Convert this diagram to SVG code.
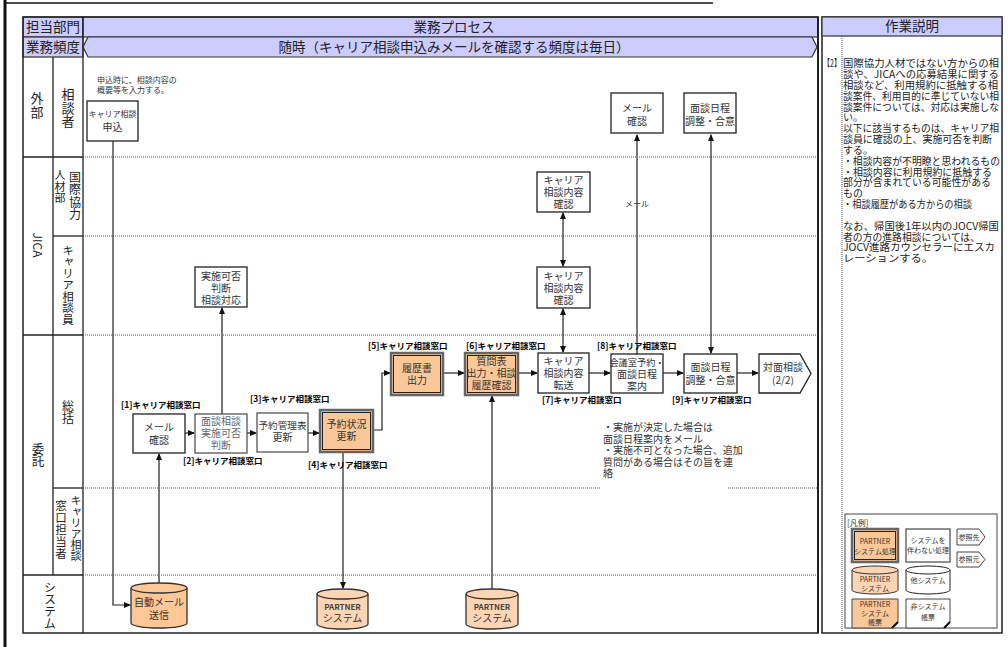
<svg xmlns="http://www.w3.org/2000/svg" width="1008" height="647" viewBox="0 0 1008 647">
<defs>
<marker id="ah" markerUnits="userSpaceOnUse" markerWidth="7" markerHeight="6" refX="6" refY="3" orient="auto-start-reverse">
<path d="M0,0 L7,3 L0,6 Z" fill="#111"/>
</marker>
</defs>
<style>
text{font-family:"Noto Sans CJK JP","Noto Sans",sans-serif;fill:#222}
.hd{font-size:13.5px;text-anchor:middle}
.v{writing-mode:vertical-rl;text-anchor:middle;fill:#222}
.t{font-size:10px;text-anchor:middle;fill:#333}
.ts{font-size:8px;text-anchor:middle;fill:#333}
.lb{font-size:8.5px;font-weight:bold;fill:#000}
.nt{font-size:10px;fill:#333}
.ex{font-size:10px;fill:#222}
.sm{font-size:8px;fill:#333}
.lg{font-size:7px;text-anchor:middle;fill:#333}
.box{fill:#fff;stroke:#222;stroke-width:1.3}
.obox{fill:#fac898;stroke:#666;stroke-width:2.5}
.ibox{fill:none;stroke:#222;stroke-width:1}
.hdr{fill:#ccccff;stroke:#333;stroke-width:1.2}
.sl{stroke:#222;stroke-width:1.3;fill:none}
.dl{stroke:#444;stroke-width:0.9;stroke-dasharray:1 1;fill:none}
.c{stroke:#222;stroke-width:1.2;fill:none;marker-end:url(#ah)}
.cg{stroke:#777;stroke-width:2;fill:none;marker-end:url(#ah)}
.cb{stroke:#222;stroke-width:1.2;fill:none;marker-end:url(#ah);marker-start:url(#ah)}
.cyl{fill:#fcd5b4;stroke:#333;stroke-width:1.3}
</style>

<g id="page">
<line x1="5" y1="0" x2="5" y2="647" stroke="#111" stroke-width="3"/>
<line x1="6" y1="3" x2="713" y2="3" stroke="#111" stroke-width="1.3"/>
</g>

<g id="frame">
<rect x="23" y="17" width="60" height="20" class="hdr"/>
<rect x="83" y="17" width="735" height="20" class="hdr"/>
<rect x="23" y="37" width="60" height="20" class="hdr"/>
<polygon points="88,37 812,37 817,47 812,57 88,57 83,47" class="hdr"/>
<text x="53" y="32" class="hd">担当部門</text>
<text x="454" y="32" class="hd">業務プロセス</text>
<text x="53" y="52" class="hd">業務頻度</text>
<text x="454" y="52" class="hd">随時（キャリア相談申込みメールを確認する頻度は毎日）</text>
<rect x="23" y="17" width="795" height="616" fill="none" stroke="#222" stroke-width="1.5"/>
<line x1="818" y1="17" x2="818" y2="633" stroke="#222" stroke-width="2"/>
<line x1="83" y1="17" x2="83" y2="633" class="sl"/>
<line x1="53" y1="57" x2="53" y2="575" class="sl"/>
<line x1="23" y1="157" x2="83" y2="157" class="sl"/>
<line x1="53" y1="236" x2="83" y2="236" class="sl"/>
<line x1="23" y1="335" x2="83" y2="335" class="sl"/>
<line x1="53" y1="488" x2="83" y2="488" class="sl"/>
<line x1="23" y1="575" x2="83" y2="575" class="sl"/>
<line x1="83" y1="157" x2="818" y2="157" class="dl"/>
<line x1="83" y1="236" x2="818" y2="236" class="dl"/>
<line x1="83" y1="335" x2="818" y2="335" class="dl"/>
<line x1="83" y1="488" x2="600" y2="488" class="dl"/>
<line x1="728" y1="488" x2="818" y2="488" class="dl"/>
<line x1="83" y1="575" x2="818" y2="575" class="dl"/>
</g>

<g id="lanes">
<text class="v" x="37" y="106" style="font-size:13px;letter-spacing:1px">外部</text>
<text class="v" x="68" y="108" style="font-size:13px;letter-spacing:0.5px">相談者</text>
<text class="v" x="75" y="196" style="font-size:12px;letter-spacing:0.3px">国際協力</text>
<text class="v" x="60" y="187" style="font-size:11px;letter-spacing:0.5px">人材部</text>
<text class="v" x="38" y="245" style="font-size:12px">JICA</text>
<text class="v" x="68" y="285" style="font-size:11.5px">キャリア相談員</text>
<text class="v" x="68" y="412" style="font-size:12px">総括</text>
<text class="v" x="38" y="455" style="font-size:12.5px">委託</text>
<text class="v" x="76" y="528" style="font-size:11px">キャリア相談</text>
<text class="v" x="61" y="530" style="font-size:11.5px;letter-spacing:0.5px">窓口担当者</text>
<text class="v" x="50" y="605" style="font-size:12px">システム</text>
</g>

<g id="connectors">
<path d="M113,141 V605 H130" class="c"/>
<path d="M159,583 V454" class="cg"/>
<path d="M185,433 H194" class="c"/>
<path d="M222,414 V308" class="cg"/>
<path d="M247,433 H256" class="c"/>
<path d="M308,433 H319" class="c"/>
<path d="M373,430 H382 V373 H390" class="c"/>
<path d="M343,452 V588" class="c"/>
<path d="M443,373 H464" class="c"/>
<path d="M492,589 V396" class="cg"/>
<path d="M518,373 H537" class="c"/>
<path d="M563,213 V266" class="cb"/>
<path d="M563,309 V352" class="cb"/>
<path d="M589,373 H610" class="c"/>
<path d="M637,354 V135" class="cg"/>
<path d="M711,135 V353" class="cb"/>
<path d="M663,373 H683" class="c"/>
<path d="M737,373 H758" class="c"/>
<text x="637" y="207" class="sm" text-anchor="middle">メール</text>
</g>

<g id="n-moushikomi">
<rect x="87" y="101" width="51" height="40" class="box"/>
<text class="ts" x="112.5" y="117">キャリア相談</text>
<text class="t" x="112.5" y="131">申込</text>
</g>
<g id="n-note1">
<text class="sm" x="97" y="83">申込時に、相談内容の</text>
<text class="sm" x="97" y="93">概要等を入力する。</text>
</g>
<g id="n-mail-top">
<rect x="611" y="93" width="52" height="40" class="box"/>
<text class="t" x="637" y="112">メール</text>
<text class="t" x="637" y="125">確認</text>
</g>
<g id="n-mendan-top">
<rect x="684" y="93" width="52" height="40" class="box"/>
<text class="t" x="710" y="112">面談日程</text>
<text class="t" x="710" y="125">調整・合意</text>
</g>
<g id="n-kakunin1">
<rect x="537" y="172" width="53" height="40" class="box"/>
<text class="t" x="563.5" y="184">キャリア</text>
<text class="t" x="563.5" y="196">相談内容</text>
<text class="t" x="563.5" y="208">確認</text>
</g>
<g id="n-kakunin2">
<rect x="537" y="267" width="53" height="41" class="box"/>
<text class="t" x="563.5" y="280">キャリア</text>
<text class="t" x="563.5" y="292">相談内容</text>
<text class="t" x="563.5" y="304">確認</text>
</g>
<g id="n-kahi">
<rect x="195" y="267" width="52" height="40" class="box"/>
<text class="t" x="221" y="280">実施可否</text>
<text class="t" x="221" y="292">判断</text>
<text class="t" x="221" y="304">相談対応</text>
</g>
<g id="n-mail">
<rect x="133" y="414" width="52" height="39" class="box"/>
<text class="t" x="159" y="431">メール</text>
<text class="t" x="159" y="444">確認</text>
</g>
<g id="n-mendan-kahi">
<rect x="195" y="414" width="52" height="39" class="box" style="stroke:#555"/>
<text class="t" x="221" y="425" style="fill:#666">面談相談</text>
<text class="t" x="221" y="437" style="fill:#666">実施可否</text>
<text class="t" x="221" y="449" style="fill:#666">判断</text>
</g>
<g id="n-yoyaku-kanri">
<rect x="257" y="413" width="51" height="39" class="box" style="stroke:#555"/>
<text class="t" x="282.5" y="429" style="font-size:9.6px">予約管理表</text>
<text class="t" x="282.5" y="441">更新</text>
</g>
<g id="n-yoyaku-jokyo">
<rect x="320" y="410" width="53" height="42" class="obox"/>
<rect x="322.5" y="412.5" width="48" height="37" class="ibox"/>
<text class="t" x="346.5" y="428">予約状況</text>
<text class="t" x="346.5" y="440">更新</text>
</g>
<g id="n-rireki">
<rect x="391" y="353" width="52" height="42" class="obox"/>
<rect x="393.5" y="355.5" width="47" height="37" class="ibox"/>
<text class="t" x="417" y="372">履歴書</text>
<text class="t" x="417" y="384">出力</text>
</g>
<g id="n-shitsumon">
<rect x="465" y="353" width="53" height="42" class="obox"/>
<rect x="467.5" y="355.5" width="48" height="37" class="ibox"/>
<text class="t" x="491.5" y="365">質問表</text>
<text class="t" x="491.5" y="377">出力・相談</text>
<text class="t" x="491.5" y="389">履歴確認</text>
</g>
<g id="n-tenso">
<rect x="538" y="353" width="51" height="40" class="box"/>
<text class="t" x="563.5" y="365">キャリア</text>
<text class="t" x="563.5" y="377">相談内容</text>
<text class="t" x="563.5" y="389">転送</text>
</g>
<g id="n-kaigishitsu">
<rect x="611" y="354" width="52" height="39" class="box"/>
<text class="t" x="637" y="366" style="font-size:9.2px">会議室予約・</text>
<text class="t" x="637" y="378">面談日程</text>
<text class="t" x="637" y="390">案内</text>
</g>
<g id="n-mendan">
<rect x="684" y="354" width="53" height="39" class="box"/>
<text class="t" x="710.5" y="371">面談日程</text>
<text class="t" x="710.5" y="384">調整・合意</text>
</g>
<g id="n-taimen">
<polygon points="759,354 800,354 811,373.5 800,393 759,393" class="box"/>
<text class="t" x="783" y="371">対面相談</text>
<text class="t" x="783" y="384">(2/2)</text>
</g>
<g id="n-jidomail">
<path d="M131,588 A28,5 0 0 1 187,588 V623 A28,5 0 0 1 131,623 Z" class="cyl" style="fill:#fdc896"/>
<path d="M131,588 A28,5 0 0 0 187,588" class="cyl" style="fill:none"/>
<text class="t" x="159" y="606">自動メール</text>
<text class="t" x="159" y="619">送信</text>
</g>
<g id="n-partner1">
<path d="M317,594 A25.5,5 0 0 1 368,594 V624 A25.5,5 0 0 1 317,624 Z" class="cyl"/>
<path d="M317,594 A25.5,5 0 0 0 368,594" class="cyl" style="fill:none"/>
<text class="lg" style="font-size:8px;font-weight:bold;fill:#444" x="342.5" y="610">PARTNER</text>
<text class="t" x="342.5" y="622">システム</text>
</g>
<g id="n-partner2">
<path d="M466,594 A26,5 0 0 1 518,594 V624 A26,5 0 0 1 466,624 Z" class="cyl"/>
<path d="M466,594 A26,5 0 0 0 518,594" class="cyl" style="fill:none"/>
<text class="lg" style="font-size:8px;font-weight:bold;fill:#444" x="492" y="610">PARTNER</text>
<text class="t" x="492" y="622">システム</text>
</g>

<g id="labels">
<text class="lb" x="121" y="408">[1]キャリア相談窓口</text>
<text class="lb" x="183" y="464">[2]キャリア相談窓口</text>
<text class="lb" x="250" y="402">[3]キャリア相談窓口</text>
<text class="lb" x="308" y="468">[4]キャリア相談窓口</text>
<text class="lb" x="368" y="349">[5]キャリア相談窓口</text>
<text class="lb" x="466" y="349">[6]キャリア相談窓口</text>
<text class="lb" x="542" y="403">[7]キャリア相談窓口</text>
<text class="lb" x="597" y="349">[8]キャリア相談窓口</text>
<text class="lb" x="672" y="403">[9]キャリア相談窓口</text>
</g>
<g id="n-note2">
<text class="nt" x="603" y="431">・実施が決定した場合は</text>
<text class="nt" x="603" y="442.5">面談日程案内をメール</text>
<text class="nt" x="603" y="454">・実施不可となった場合、追加</text>
<text class="nt" x="603" y="465.5">質問がある場合はその旨を連</text>
<text class="nt" x="603" y="477">絡</text>
</g>

<g id="explanation">
<rect x="822" y="17" width="180" height="616" fill="#fff" stroke="#222" stroke-width="1.5"/>
<rect x="822" y="17" width="180" height="19" class="hdr"/>
<text class="hd" x="912" y="31">作業説明</text>
<line x1="842" y1="36" x2="842" y2="633" class="dl"/>
<text class="ex" x="823" y="67" textLength="18" lengthAdjust="spacingAndGlyphs">【2】</text>
<text class="ex" x="843" y="67" textLength="156" lengthAdjust="spacingAndGlyphs">国際協力人材ではない方からの相</text>
<text class="ex" x="843" y="78" textLength="156" lengthAdjust="spacingAndGlyphs">談や、JICAへの応募結果に関する</text>
<text class="ex" x="843" y="89" textLength="155" lengthAdjust="spacingAndGlyphs">相談など、利用規約に抵触する相</text>
<text class="ex" x="843" y="99.5" textLength="156" lengthAdjust="spacingAndGlyphs">談案件、利用目的に準じていない相</text>
<text class="ex" x="843" y="110.5" textLength="156" lengthAdjust="spacingAndGlyphs">談案件については、対応は実施しな</text>
<text class="ex" x="843" y="121">い。</text>
<text class="ex" x="843" y="132" textLength="156" lengthAdjust="spacingAndGlyphs">以下に該当するものは、キャリア相</text>
<text class="ex" x="843" y="143" textLength="149" lengthAdjust="spacingAndGlyphs">談員に確認の上、実施可否を判断</text>
<text class="ex" x="843" y="154">する。</text>
<text class="ex" x="843" y="164.5" textLength="157" lengthAdjust="spacingAndGlyphs">・相談内容が不明瞭と思われるもの</text>
<text class="ex" x="843" y="175.5" textLength="149" lengthAdjust="spacingAndGlyphs">・相談内容に利用規約に抵触する</text>
<text class="ex" x="843" y="186" textLength="148" lengthAdjust="spacingAndGlyphs">部分が含まれている可能性がある</text>
<text class="ex" x="843" y="197">もの</text>
<text class="ex" x="843" y="208" textLength="129" lengthAdjust="spacingAndGlyphs">・相談履歴がある方からの相談</text>
<text class="ex" x="843" y="230" textLength="156" lengthAdjust="spacingAndGlyphs">なお、帰国後1年以内のJOCV帰国</text>
<text class="ex" x="843" y="240.5" textLength="137" lengthAdjust="spacingAndGlyphs">者の方の進路相談については、</text>
<text class="ex" x="843" y="251" textLength="152" lengthAdjust="spacingAndGlyphs">JOCV進路カウンセラーにエスカ</text>
<text class="ex" x="843" y="262" textLength="90" lengthAdjust="spacingAndGlyphs">レーションする。</text>
</g>

<g id="legend">
<rect x="845" y="514" width="152" height="114" fill="#fff" stroke="#666" stroke-width="1.2"/>
<text class="sm" x="847" y="526">[凡例]</text>
<rect x="852" y="529" width="46" height="33" class="obox"/>
<rect x="854.5" y="531.5" width="41" height="28" class="ibox"/>
<text class="lg" x="875" y="544">PARTNER</text>
<text class="lg" x="875" y="554">システム処理</text>
<rect x="906" y="529" width="44" height="33" class="box" style="stroke:#555"/>
<text class="lg" x="928" y="543">システムを</text>
<text class="lg" x="928" y="553">伴わない処理</text>
<polygon points="957,529 979,529 985,537 979,545 957,545" class="box" style="stroke:#444;stroke-width:1"/>
<text class="lg" x="969" y="540">参照先</text>
<polygon points="957,552 979,552 985,559.5 979,567 957,567" class="box" style="stroke:#444;stroke-width:1"/>
<text class="lg" x="969" y="562">参照元</text>
<path d="M852,570 A23,4 0 0 1 898,570 V590 A23,4 0 0 1 852,590 Z" class="cyl" style="stroke-width:1"/>
<path d="M852,570 A23,4 0 0 0 898,570" class="cyl" style="fill:none;stroke-width:1"/>
<text class="lg" x="875" y="582">PARTNER</text>
<text class="lg" x="875" y="591">システム</text>
<path d="M906,570 A22,4 0 0 1 950,570 V590 A22,4 0 0 1 906,590 Z" class="box" style="stroke-width:1"/>
<path d="M906,570 A22,4 0 0 0 950,570" class="box" style="fill:none;stroke-width:1"/>
<text class="lg" x="928" y="583">他システム</text>
<path d="M852,599 H898 V622 L892,628 H852 Z" fill="#fac898" stroke="#444" stroke-width="1"/>
<path d="M898,622 L892,628" stroke="#000" stroke-width="2" fill="none"/>
<text class="lg" x="875" y="607">PARTNER</text>
<text class="lg" x="875" y="616">システム</text>
<text class="lg" x="875" y="625">帳票</text>
<path d="M906,599 H950 V622 L944,628 H906 Z" fill="#fff" stroke="#444" stroke-width="1"/>
<path d="M950,622 L944,628" stroke="#000" stroke-width="2" fill="none"/>
<text class="lg" x="928" y="609">非システム</text>
<text class="lg" x="928" y="620">帳票</text>
</g>
</svg>
